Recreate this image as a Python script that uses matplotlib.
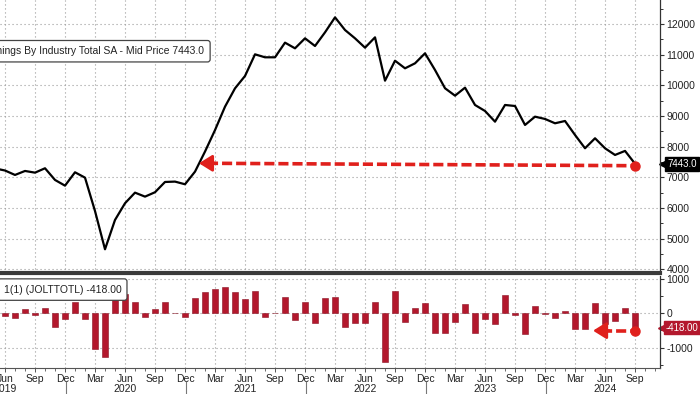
import numpy as np
import matplotlib
matplotlib.use("Agg")
import matplotlib.pyplot as plt
from matplotlib.lines import Line2D
from matplotlib.ticker import FixedLocator, MultipleLocator

plt.rcParams["font.family"] = ["Liberation Sans", "DejaVu Sans"]
plt.rcParams["axes.unicode_minus"] = False

# month index: 0 = Jan 2019
MONTH_NAMES = ["Jan", "Feb", "Mar", "Apr", "May", "Jun",
               "Jul", "Aug", "Sep", "Oct", "Nov", "Dec"]
YEARS = ["2019", "2020", "2021", "2022", "2023", "2024"]

# US job openings (thousands), May 2019 .. Sep 2024
LINE_START = 4
openings = [
    7290, 7222, 7077, 7207, 7152, 7295, 6914, 6728,             # 2019
    7164, 6989, 5900, 4653, 5609, 6154, 6500, 6370, 6513, 6848, 6860, 6773,  # 2020
    7185, 7840, 8540, 9304, 9902, 10305, 11011, 10914, 10914, 11392, 11207, 11533,  # 2021
    11283, 11728, 12217, 11804, 11533, 11228, 11565, 10152, 10803, 10555, 10718, 11044,  # 2022
    10500, 9904, 9663, 9924, 9359, 9163, 8815, 9359, 9326, 8707, 8978, 8903,  # 2023
    8762, 8837, 8381, 7947, 8273, 7947, 7729, 7861, 7443,        # 2024
]

# 1-month net change, Jun 2019 .. Sep 2024
BAR_START = 5
change = [
    -68, -145, 126, -48, 145, -407, -174,
    339, -174, -1047, -1279, 950, 562, 320, -116, 126, 320, 19, -97,
    436, 630, 698, 756, 630, 407, 659, -97, 10, 465, -194, 320,
    -271, 446, 465, -407, -291, -271, 320, -1405, 659, -262, 165, 300,
    -562, -562, -242, 271, -581, -174, -310, 533, -48, -610, 223, -29,
    -145, 58, -465, -446, 291, -310, -213, 145, -418,
]

TOP_LEGEND = "US Job Openings By Industry Total SA - Mid Price 7443.0"
BOTTOM_LEGEND = "1(1) (JOLTTOTL) -418.00"

LINE_COLOR = "black"
BAR_COLOR = "#b3182d"
ARROW_COLOR = "#e0201c"
GRID_COLOR = "#9a9a9a"
AXIS_COLOR = "#333333"

line_x = np.arange(LINE_START, LINE_START + len(openings))
bar_x = np.arange(BAR_START, BAR_START + len(change))
last_x = line_x[-1]
last_value = openings[-1]
last_change = change[-1]

fig = plt.figure(figsize=(7.0, 3.94), dpi=100)
ax1 = fig.add_axes([0.0, 0.3071, 0.9429, 0.6929])
ax2 = fig.add_axes([0.0, 0.066, 0.9429, 0.2335], sharex=ax1)

quarter_ticks = [m for m in range(5, 69) if m % 12 in (2, 5, 8, 11)]
grid_kw = dict(color=GRID_COLOR, linewidth=0.8, linestyle=(0, (1, 2.6)))

for ax in (ax1, ax2):
    ax.set_facecolor("white")
    ax.spines["left"].set_visible(False)
    ax.spines["top"].set_visible(False)
    ax.spines["right"].set_color(AXIS_COLOR)
    ax.spines["right"].set_linewidth(0.9)
    ax.yaxis.tick_right()
    ax.tick_params(axis="y", which="major", direction="out", length=3,
                   width=0.8, colors=AXIS_COLOR, labelsize=7.5, pad=1.5,
                   labelcolor="#222222")
    ax.tick_params(axis="y", which="minor", direction="out", length=2,
                   width=0.7, colors=AXIS_COLOR)
    ax.xaxis.set_major_locator(FixedLocator(quarter_ticks))
    ax.grid(True, which="major", **grid_kw)
    ax.set_axisbelow(True)

ax1.set_xlim(4.5, 70.5)

# top panel: level
ax1.plot(line_x, openings, color=LINE_COLOR, linewidth=1.6, zorder=3)
ax1.set_ylim(3879, 12783)
ax1.yaxis.set_major_locator(FixedLocator(range(4000, 12001, 1000)))
ax1.yaxis.set_minor_locator(MultipleLocator(500))
ax1.tick_params(axis="x", which="both", length=0, labelbottom=False)
ax1.spines["bottom"].set_color("#3a3a3a")
ax1.spines["bottom"].set_linewidth(3.0)

# top dashed arrow back to the month the line last stood at this level
rise = [i for i in range(1, len(openings))
        if openings[i - 1] < last_value <= openings[i]][0]
tip_x = line_x[rise - 1] + (last_value - openings[rise - 1]) / (
    openings[rise] - openings[rise - 1])
dot_y = last_value - 65
tip_y = last_value + 15
ax1.plot([tip_x + 0.9, last_x], [tip_y, dot_y], color=ARROW_COLOR,
         linewidth=2.6, dashes=(2.8, 1.1), zorder=4)
ax1.annotate("", xy=(tip_x, tip_y), xytext=(tip_x + 1.6, tip_y),
             arrowprops=dict(arrowstyle="-|>,head_length=0.8,head_width=0.5",
                             color=ARROW_COLOR, lw=2.0, shrinkA=0, shrinkB=0),
             zorder=5)
ax1.plot([last_x], [dot_y], "o", color=ARROW_COLOR, markersize=6.5, zorder=5)

# last value tag
ytr1 = ax1.get_yaxis_transform()
ax1.plot([1.004], [last_value], marker="<", color="black", markersize=5.5,
         transform=ytr1, clip_on=False)
ax1.text(1.011, last_value, f"{last_value:.1f}", transform=ytr1, color="white",
         fontsize=7, va="center", ha="left", clip_on=False,
         bbox=dict(boxstyle="square,pad=0.22", fc="black", ec="black"))

# legend box (runs off the left edge, as in the source)
fig.text(0.292, 0.870, TOP_LEGEND, fontsize=7.5, color="#222222",
         ha="right", va="center",
         bbox=dict(boxstyle="round,pad=0.55,rounding_size=0.25", fc="white",
                   ec="#444444", lw=0.9))

# bottom panel: monthly change
ax2.bar(bar_x, change, width=0.6, color=BAR_COLOR, edgecolor="#8c1222",
        linewidth=0.4, zorder=3)
ax2.set_ylim(-1590, 1084)
ax2.yaxis.set_major_locator(FixedLocator([-1000, 0, 1000]))
ax2.yaxis.set_minor_locator(MultipleLocator(500))
ax2.spines["bottom"].set_color("#555555")
ax2.spines["bottom"].set_linewidth(0.8)
ax2.xaxis.set_minor_locator(MultipleLocator(1))
ax2.tick_params(axis="x", which="major", direction="out", length=3,
                width=0.7, colors="#555555", labelsize=7.5, pad=1.5,
                labelcolor="#222222")
ax2.tick_params(axis="x", which="minor", direction="out", length=2,
                width=0.6, colors="#555555")
ax2.set_xticklabels([MONTH_NAMES[m % 12] for m in quarter_ticks])

xtr2 = ax2.get_xaxis_transform()
for k, year in enumerate(YEARS):
    ax2.text(5 + 12 * k, -0.225, year, transform=xtr2, fontsize=7.5,
             color="#222222", ha="center", va="center", clip_on=False)
    if k < len(YEARS) - 1:
        ax2.add_line(Line2D([11.1 + 12 * k] * 2, [-0.15, -0.30],
                            transform=xtr2, color="#777777", lw=0.8,
                            clip_on=False))

# bottom dashed arrow
arrow_y = -505
b_tip = 63.8
ax2.plot([b_tip + 0.9, last_x], [arrow_y, arrow_y], color=ARROW_COLOR,
         linewidth=2.6, dashes=(2.8, 1.1), zorder=4)
ax2.annotate("", xy=(b_tip, arrow_y), xytext=(b_tip + 1.6, arrow_y),
             arrowprops=dict(arrowstyle="-|>,head_length=0.8,head_width=0.5",
                             color=ARROW_COLOR, lw=2.0, shrinkA=0, shrinkB=0),
             zorder=5)
ax2.plot([last_x], [arrow_y], "o", color=ARROW_COLOR, markersize=6.5, zorder=5)

ytr2 = ax2.get_yaxis_transform()
ax2.plot([1.003], [last_change], marker="<", color=BAR_COLOR, markersize=5.5,
         transform=ytr2, clip_on=False)
ax2.text(1.008, last_change, f"{last_change:.2f}", transform=ytr2,
         color="white", fontsize=7, va="center", ha="left", clip_on=False,
         bbox=dict(boxstyle="square,pad=0.15", fc=BAR_COLOR, ec=BAR_COLOR))

fig.text(0.005, 0.265, BOTTOM_LEGEND, fontsize=7.5, color="#222222",
         ha="left", va="center",
         bbox=dict(boxstyle="round,pad=0.55,rounding_size=0.25", fc="white",
                   ec="#444444", lw=0.9))

fig.savefig("out.png", dpi=100)
